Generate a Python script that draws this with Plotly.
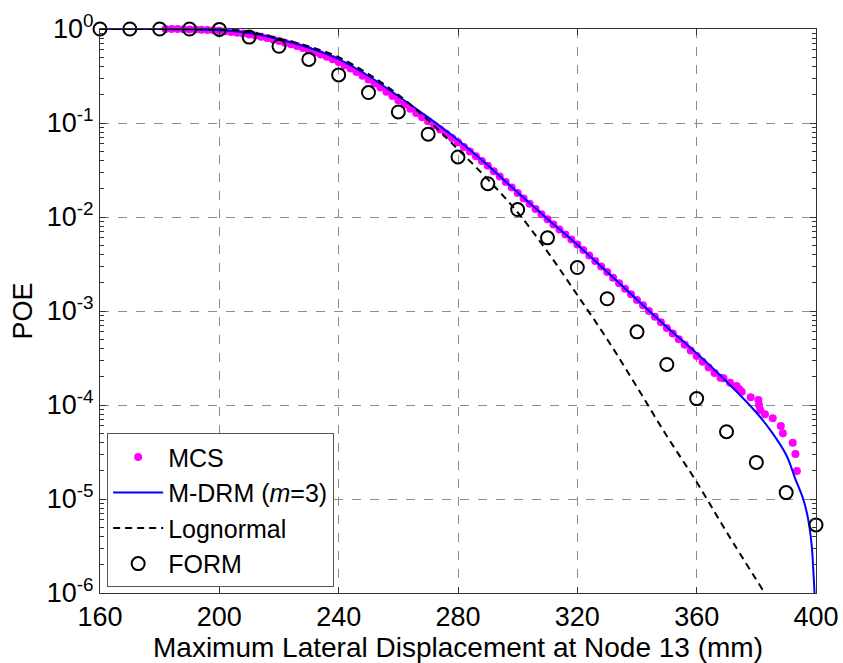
import plotly.graph_objects as go

# ---------------- data ----------------
# MCS: dense band (x in mm, log10 POE)
mcs_x = [182, 184, 186, 188, 190, 192, 194, 196, 198, 200, 202, 204, 206, 208, 210,
         212, 214, 216, 218, 220, 222, 224, 226, 228, 230, 232, 234, 236, 238, 240,
         242, 244, 246, 248, 250, 252, 254, 256, 258, 260, 262, 264, 266, 268, 270,
         272, 274, 276, 278, 280, 282, 284, 286, 288, 290, 292, 294, 296, 298, 300,
         302, 304, 306, 308, 310, 312, 314, 316, 318, 320, 322, 324, 326, 328, 330,
         332, 334, 336, 338, 340, 342, 344, 346, 348, 350, 352, 354, 356, 358, 360,
         362, 364, 366, 368,
         369.0, 371.2, 373.4, 374.3, 375.1, 378.1, 380.7, 380.9, 381.3, 382.9,
         385.5, 388.2, 388.9, 392.2, 393.1, 393.6]
mcs_log10 = [0.0, 0.0, -0.001, -0.002, -0.004, -0.006, -0.008, -0.011, -0.014, -0.018,
             -0.024, -0.031, -0.039, -0.048, -0.058, -0.070, -0.083, -0.097, -0.112, -0.128,
             -0.145, -0.163, -0.182, -0.202, -0.225, -0.247, -0.270, -0.295, -0.322, -0.352,
             -0.385, -0.420, -0.457, -0.497, -0.538, -0.580, -0.623, -0.667, -0.712, -0.757,
             -0.802, -0.848, -0.893, -0.938, -0.982, -1.026, -1.070, -1.115, -1.160, -1.205,
             -1.254, -1.303, -1.353, -1.403, -1.456, -1.512, -1.569, -1.627, -1.686, -1.746,
             -1.802, -1.858, -1.914, -1.970, -2.025, -2.080, -2.134, -2.187, -2.240, -2.292,
             -2.350, -2.410, -2.468, -2.527, -2.586, -2.645, -2.704, -2.763, -2.822, -2.882,
             -2.940, -3.000, -3.060, -3.120, -3.180, -3.240, -3.300, -3.360, -3.420, -3.480,
             -3.540, -3.600, -3.660, -3.710,
             -3.716, -3.763, -3.798, -3.833, -3.859, -3.918, -3.947, -4.000, -4.053, -4.099,
             -4.141, -4.223, -4.301, -4.401, -4.521, -4.702]

# M-DRM (m=3)
mdrm_x = [160, 180, 190, 200, 210, 220, 230, 240, 250, 260, 270, 280, 290, 300, 310,
          320, 330, 340, 350, 360, 370, 380, 385, 390, 393, 395.8, 397.4, 398.6, 399.1,
          399.5, 399.7]
mdrm_log10 = [0.0, 0.0, -0.003, -0.012, -0.042, -0.110, -0.200, -0.320, -0.500, -0.715,
              -0.940, -1.180, -1.450, -1.740, -2.020, -2.295, -2.585, -2.880, -3.170, -3.450,
              -3.750, -4.080, -4.280, -4.530, -4.780, -5.010, -5.220, -5.510, -5.760,
              -6.000, -6.200]

# Lognormal
logn_x = [160, 190, 200, 210, 220, 230, 240, 250, 260, 270, 280, 290, 300, 310, 320,
          330, 340, 350, 360, 370, 382.2]
logn_log10 = [0.0, 0.0, -0.005, -0.030, -0.100, -0.185, -0.300, -0.480, -0.700, -0.970,
              -1.280, -1.600, -1.950, -2.370, -2.830, -3.300, -3.810, -4.330, -4.820,
              -5.350, -5.970]

# FORM
form_x = [160, 170, 180, 190, 200, 210, 220, 230, 240, 250, 260, 270, 280, 290, 300,
          310, 320, 330, 340, 350, 360, 370, 380, 390, 400]
form_poe = [1.0, 1.0, 1.0, 1.0, 0.99, 0.82, 0.655, 0.475, 0.325, 0.211, 0.131, 0.076,
            0.0435, 0.0226, 0.0120, 0.0060, 0.0029, 0.00135, 6.0e-4, 2.7e-4, 1.17e-4,
            5.2e-5, 2.45e-5, 1.17e-5, 5.3e-6]

y_tickvals = [1e-6, 1e-5, 1e-4, 1e-3, 1e-2, 1e-1, 1e0]
y_ticktext = ["10<sup>-6</sup>", "10<sup>-5</sup>", "10<sup>-4</sup>", "10<sup>-3</sup>",
              "10<sup>-2</sup>", "10<sup>-1</sup>", "10<sup>0</sup>"]
x_tickvals = [160, 200, 240, 280, 320, 360, 400]

# ---------------- figure ----------------
FONT = "Liberation Sans, Arial, sans-serif"
FS = 27
fig = go.Figure()

fig.add_trace(go.Scatter(
    x=mcs_x, y=[10 ** v for v in mcs_log10], mode="markers", name="MCS",
    marker=dict(color="#FF00FF", size=8, line=dict(width=0)), cliponaxis=False))
fig.add_trace(go.Scatter(
    x=mdrm_x, y=[10 ** v for v in mdrm_log10], mode="lines",
    name="M-DRM (<i>m</i>=3)", line=dict(color="#0000FF", width=2, shape="spline")))
fig.add_trace(go.Scatter(
    x=logn_x, y=[10 ** v for v in logn_log10], mode="lines", name="Lognormal",
    line=dict(color="black", width=2, dash="7px,5px", shape="spline")))
fig.add_trace(go.Scatter(
    x=form_x, y=form_poe, mode="markers", name="FORM",
    marker=dict(symbol="circle-open", color="black", size=13, line=dict(width=2, color="black")),
    cliponaxis=False))

axis_common = dict(
    showline=True, linecolor="#333333", linewidth=1, mirror="ticks",
    ticks="inside", ticklen=6, tickcolor="#333333",
    showgrid=True, gridcolor="#8c8c8c", griddash="dash", gridwidth=1,
    zeroline=False, tickfont=dict(family=FONT, size=FS, color="black"),
    automargin=False,
)

fig.update_layout(
    width=843, height=663,
    margin=dict(l=100, r=27, t=29, b=70),
    paper_bgcolor="white", plot_bgcolor="white",
    font=dict(family=FONT, size=FS, color="black"),
    showlegend=True,
    legend=dict(x=0.01, y=0.01, xanchor="left", yanchor="bottom",
                bgcolor="white", bordercolor="#555555", borderwidth=1,
                font=dict(family=FONT, size=25, color="black"),
                itemwidth=50, tracegroupgap=0),
    xaxis=dict(range=[160, 400], tickvals=x_tickvals, **axis_common),
    yaxis=dict(type="log", range=[-6, 0], tickvals=y_tickvals, ticktext=y_ticktext,
               title=dict(text="POE", font=dict(family=FONT, size=FS), standoff=6),
               minor=dict(ticks="inside", ticklen=4, dtick="D1", tickcolor="#333333",
                          showgrid=False),
               **axis_common),
    annotations=[dict(text="Maximum Lateral Displacement at Node 13 (mm)",
                      xref="paper", yref="paper", x=0.5, y=-0.096,
                      xanchor="center", yanchor="middle", showarrow=False,
                      font=dict(family=FONT, size=28, color="black"))],
)

fig.write_html("out.html")
